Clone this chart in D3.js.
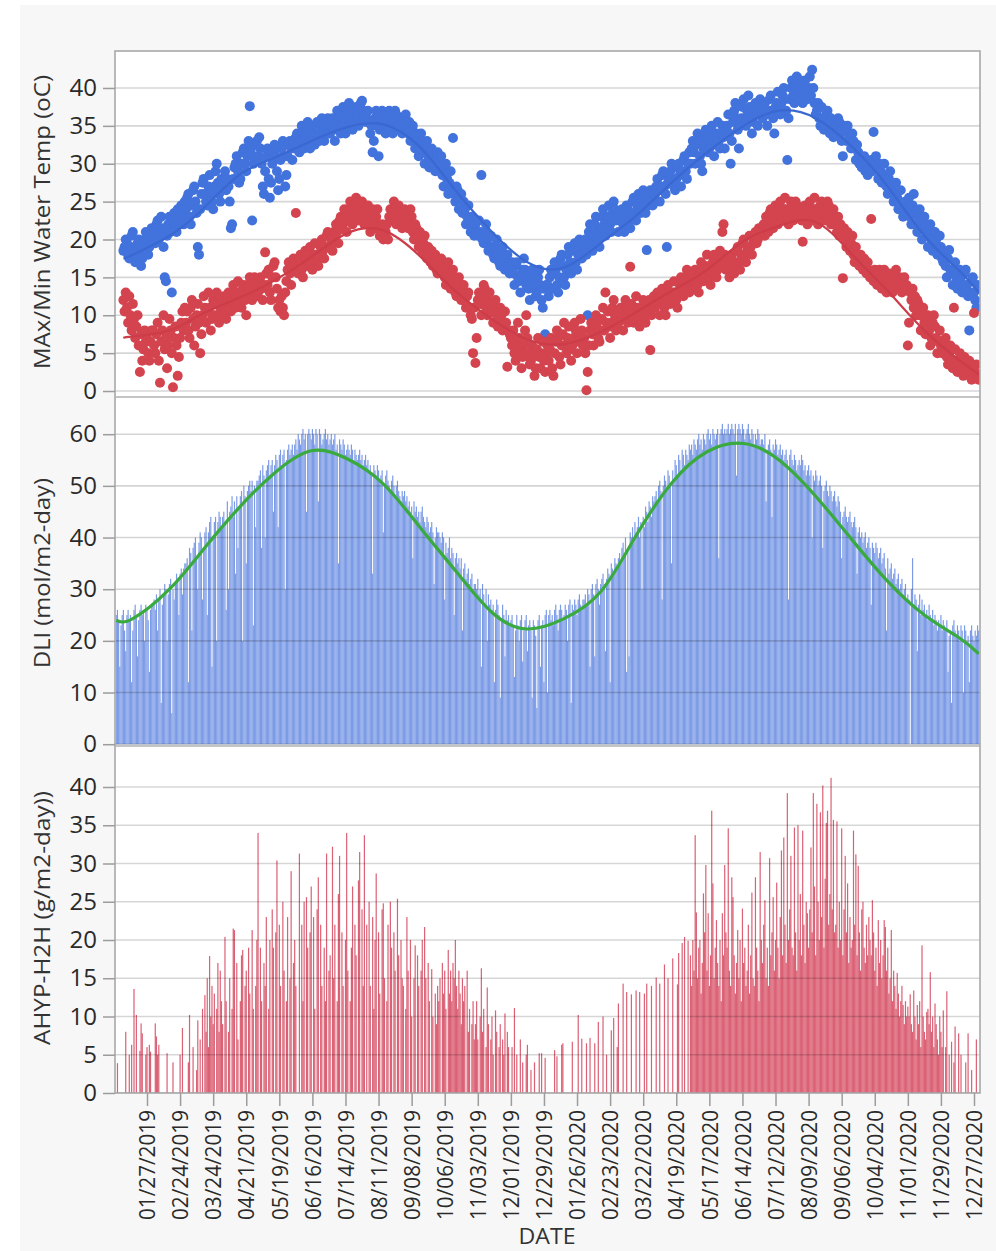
<!DOCTYPE html>
<html><head><meta charset="utf-8">
<script src="https://cdn.jsdelivr.net/npm/d3@7"></script>
<style>body{margin:0;background:#fff}svg{display:block}</style>
</head><body>
<svg id="chart" width="996" height="1251"></svg>
<script>
// ---------------- DATA ----------------
const xTickLabels = ["01/27/2019","02/24/2019","03/24/2019","04/21/2019","05/19/2019","06/16/2019","07/14/2019","08/11/2019","09/08/2019","10/06/2019","11/03/2019","12/01/2019","12/29/2019","01/26/2020","02/23/2020","03/22/2020","04/19/2020","05/17/2020","06/14/2020","07/12/2020","08/09/2020","09/06/2020","10/04/2020","11/01/2020","11/29/2020","12/27/2020"];
const tempTicks = [0,5,10,15,20,25,30,35,40];
const dliTicks = [0,10,20,30,40,50,60];
const ahypTicks = [0,5,10,15,20,25,30,35,40];

// daily max water temp, one array per month, Jan 2019 .. Dec 2020
const tmaxByMonth = [
[null,null,null,null,null,null,18.5,19,20,19.5,18,17.5,19,20.5,21,18,17,18.5,19.5,20,18,16.5,17.5,19,20,21,19.5,18,19,20.5,21.5],
[20,21,19.5,22,22.5,20,21,23,21.5,19,15,14.5,20.5,22,23,21,13,22.5,23.5,22,21,24,23,22,24.5,23,22,25],
[24,25.5,26,23,22,24.5,26.5,27,25,23.5,19,18,24,26,27.5,28,26,25,24.5,27,28.5,26,25,24,27,29,30,27.5,26,25,28],
[27,28,29,26.5,28,27,25,21.5,22,28,29.5,30,31,29,27.5,28,30,31.5,32,30,29,31,33,37.6,32,22.5,30,31,32.5,33],
[31,33.5,32,30,27,26,29,31,32,28,25.5,27.5,30,31.5,32.5,31,29,26.5,28,30.5,32,33,31,27,28.5,31,32.5,33,32,30.5,33],
[32,33.5,34,32.5,31.5,33,35,34,32,33.5,34.5,35.5,33,32,34,35,33.5,32.5,34,35.5,34,33,35,36,34.5,33,34,35.5,36,34],
[34,35,36,34.5,33,35.5,37,36,35,34,36.5,37.5,35,34,36,37,38,36.5,35,34.5,36,37,37.5,36,35,37,38,38.3,37,36,35.5],
[36,37,35.5,34,35,31.5,33,36,37,35,31,34.5,36,37,36,35,34,35.5,36.5,37,36,35,34,35.5,37,36.5,35,34.5,36,35,34],
[36,35,36.5,35,34,35.5,33,34,35,33.5,32,34,33,31,32.5,34,33,31.5,30,32,33,31,29.5,30.5,32,31,30,29,30.5,31.5],
[30,29,31,28.5,27,29.5,30,28,26,27.5,29,27,33.4,26,25,27,26.5,24,25.5,26,23.5,25,24,22,23,24.5,22.5,21,23,22,20.5],
[22,21,20.5,22.5,21,28.5,20,19.5,21,22,20,18.5,19,20.5,19,18,17.5,19,20,18,17,16.5,18,19,17.5,16,17,18,16.5,15.5],
[16,17,15.5,14,16.5,17,15,14.5,13,15.5,16,17.5,16,14,15,13.5,12,14.5,16,15,14,12.5,13,15,16,14,12,11,13.5,7.5,14],
[14,12.5,15,16,13.5,15.5,17,16,14,13,15,17.5,18,16.5,15,14,16,18,19,17,15.5,16.5,18.5,19.5,17,16,18,20,19,17.5,18.5],
[19,20,18,10,21,22,19.5,18.5,20.5,22,23,21,20,19,21.5,23,24,22,20.5,21,23,24.5,22,21,23.5,25,24,22.5,23],
[21,22.5,23,24,22,21,23,24.5,24,22.5,21.5,23.5,25,25.5,23.5,22.5,24.5,26,24.5,23.5,25.5,26.5,25,23.5,18.6,24.5,25.5,26.5,25.5,24.5,26],
[26,27,28,26.5,25,27,28.5,29,27,26,19,27.5,28,29,30,28,27,26.5,28,29.5,30,28.5,27,29,30.5,31,29,28,30,31.5],
[30,32,33,31.5,30,32.5,34,33,31,30,29,32,33.5,34.5,33,31.5,32,34,35,33,31,32.5,34,35.5,33,32,34,35,33.5,32,34.5],
[35,36.5,34,30,33,35.5,37,38,36,34.5,32,35,36,37.5,38.5,36,35,37,39,37.5,36,34,35.5,37,38,36.5,35,37,38.5,37],
[36,37.5,38,36.5,35,37,38.5,39,37,36,34,37.5,38,39.5,37,36.5,38,39,40,38.5,37,30.5,36,38.5,40,41,39,38,40.5,41.5,39],
[40,41,39.5,38,40.5,41,39,38.5,40,41.5,39,42.4,40,38,36.5,37,38,36,35,37.5,36,34.5,35,36.5,37,35.5,34,36,35,33.5,34],
[35,34,36,35.5,34,33,31,35,34.5,33,35,34,33.5,32,34,33,32,30.5,32.5,31.5,30,31,29.5,30.5,31,29,30,28.5,29.5,30],
[30.5,29,34.2,30,31,29.5,28,30,29,27.5,28.5,30,28,27,26,28,29,27,26.5,25,26,27.5,25.5,24,25,26.5,24.5,23,24,25,23.5],
[24,25.5,23,22,24.5,26,23.5,22,21,23,24,22.5,20,21.5,23,22,20.5,19,21,22,20,18.5,19.5,21,20,18,19,20.5,19,17.5],
[17,18,16.5,15,17.5,18.6,16,15.5,14,16,17,15,13.5,14.5,16,15,13,14,15.5,16,14,12.5,8,13,14.5,15,13,12,11,14,13.5]
];

// daily min water temp
const tminByMonth = [
[null,null,null,null,null,null,12,10.5,13,11,9,12.5,10,8,11.5,9.5,7,8.5,10,6,2.5,7.5,4,5.5,8,6.5,7,5,4,6.5,8],
[8,6,5,7.5,9,4,1.1,6.5,8,10,5.5,7,3,6,9.5,8,5,0.5,7,8.5,6,2,4.5,7,9,10.5,8,11],
[9,10.5,8,7,11,12,9.5,6,8.5,10,11.5,9,5,7.5,10,12.5,11,9,10.5,13,11,8,9.5,12,10,11.5,13,10,9,11,12],
[11,12.5,10,9.5,12,13,11.5,10.5,12,14,13,11,12.5,14.5,13,12,11,13.5,14,12,10,12.5,14,15,13,12,13.5,15,14,12.5],
[13,14.5,15,13.5,12,14,18.3,15.5,14,16,13,12,15,16.5,17,15,13.5,11,12,10.5,12.5,11,10,13,14.5,16,17,15.5,14,16,17.5],
[17,23.5,16,15.5,17.5,18,16,15,17,18.5,17.5,16.5,18,19,17,16,18,19.5,18,17,16.5,18,19,20,18.5,17.5,19,20.5,21,19],
[19,20,18.5,21,20.5,22,21,19.5,22.5,23,21.5,22,24,23,21,22.5,24,25,23.5,22,23,24.5,25.5,24,22.5,23,24,25,23.5,22,24],
[23,24.5,22,21,23.5,24,22.5,21.5,23,24,22,20.5,21,22,20,21.5,21,22,20,23,24,22.5,23.5,25,24,22,23,24.5,23,22,21.5],
[23.5,24,22,23,21.5,22.5,24,23,21,20,22,21.5,20.5,19,21,20,18.5,19.5,20.5,18,17.5,19,18,17,18.5,16.5,17,18,16,15.5],
[17,16,17.5,15.5,16.5,15,14,16,17,15,13.5,14.5,16,15,13,12.5,14,15,13,12,13.5,14,12,11,12.5,13,11,10,9.5,5,11],
[3.7,7,12,13,11.5,10,12.5,14,13.5,11,10,12,13,11.5,10.5,9,11,12,10,8.5,9.5,11,10,8,9,10.5,9,3.2,8,7.5],
[7,6,8,5,4,6.5,9,7,5.5,3,4.5,6,8,10,7,5,3.5,4,6,5,2,3,5.5,7,4.5,3,5,6.5,4,2.5,5],
[6,4,5.5,7,3,2,5,6.5,8,7,4.5,3.5,6,7.5,9,6,5,7,8.5,5.5,4,6,7,9,8,5,6.5,7.5,9.5,8,6],
[7,5,0.1,2.5,6,8,9,7.5,6,8.5,10,9,7,6.5,8,9.5,11,8,13,9,10.5,8.5,7,9,11,12,10,8,9],
[9,10.5,11,9.5,8,10,12,11,9,10.5,16.4,11.5,10,9,11,12.5,11,10,8.5,9.5,11,12,10.5,9,10,11.5,12,5.4,10,11,12.5],
[11,12,13,11.5,10,12.5,13.5,12,11,10,12.5,14,13,11.5,12,13,14.5,13,12,11,13,14,15,13.5,12.5,14,15,16,14,13],
[14,15,13.5,14.5,16,15,14,13,15.5,17,16,14.5,15,16.5,18,16,15,14,15.5,17,18,16.5,15,16,17.5,18.5,17,21,22,18,16],
[17,16,15,17.5,18,16.5,15.5,17,18.5,19,17,16,18,19.5,20,18,17,18.5,19,20.5,19,18,19.5,20,21,19.5,20,21.5,20.5,21],
[21,22,20.5,23,22.5,21,23.5,24,22,21.5,23,24.5,23,22,24,25,23.5,22.5,24,25.5,24,23,22,24,25,23.5,22.5,24,25,24.5,23],
[23,24,22.5,19.7,23.5,24.5,23,22,24,25,23.5,22.5,24,25.5,24,23,22,23.5,24.5,25,24,23,22.5,24,25,24.5,23,22,23.5,24,22.5],
[22,21,23,20.5,22,21,14.9,21.5,20,19,21,20,18.5,19.5,20.5,18,17,19,18,17.5,16.5,18,17,16,17.5,16,15.5,17,16,15],
[22.7,15,14.5,16,15,14,15.5,16,14.5,13.5,15,16,14,13,15,14.5,15.5,14,13,14.5,15,16,14,13.5,15,14,13,14.5,15,13.5,14],
[6,9,13,12,13.5,11,12.5,10,12,11.5,10,8,10.5,11,9,7.5,9,10,8,6,7,9,10,8.5,7,5,6.5,8,6,5],
[6,5,7,4.5,3.5,5,6,4,3,11,5.5,4,2.5,3.5,5,4,3,2,4.5,3.5,2.5,3,4,2,1.5,3,10.3,2.5,3.5,2,1.5]
];

// daily light integral (mol/m2-day)
const dliByMonth = [
[25,26,24,15,23,25,26,22,18,25,26,24,25,12,22,26,27,25,17,24,26,27,25,26,20,27,26,24,14,26,27],
[27,28,26,29,22,28,30,8,27,29,31,30,20,29,31,32,6,30,28,31,33,32,25,33,34,29,34,35],
[35,36,12,38,37,22,38,39,40,36,30,39,41,40,28,38,41,42,25,41,43,44,15,40,43,44,20,43,45,44,42],
[44,45,43,26,47,30,45,46,48,44,47,33,48,38,46,48,49,20,50,48,35,49,50,51,49,51,23,50,42,51],
[51,52,53,38,54,52,40,53,54,55,52,54,55,45,54,56,55,42,56,57,54,56,57,30,55,57,58,56,57,58,56],
[58,59,57,60,59,58,60,61,59,60,45,60,61,60,59,61,60,58,61,60,47,61,60,58,59,60,61,59,60,58],
[59,60,58,59,60,57,58,35,59,58,57,59,58,56,57,58,57,56,58,57,55,57,56,55,56,57,55,56,54,55,56],
[54,55,53,54,52,33,54,53,52,54,53,51,52,53,41,50,52,53,51,50,49,51,52,50,48,50,51,49,48,47,49],
[48,49,47,48,46,47,45,46,36,47,45,46,44,45,43,45,46,44,43,42,44,43,41,42,43,41,31,40,42,41],
[41,40,39,41,40,28,39,37,38,40,36,38,37,25,36,37,35,36,34,36,22,34,35,32,33,34,31,32,33,30,31],
[31,30,32,29,30,15,31,29,27,30,20,29,27,28,26,27,12,26,28,27,25,9,24,27,25,17,26,24,25,23],
[24,25,23,13,22,25,23,20,24,25,16,22,24,25,18,23,24,22,9,24,23,21,7,24,25,15,23,24,12,25,26],
[10,25,26,24,25,23,26,27,25,22,26,27,26,24,25,27,26,20,27,28,8,27,26,28,27,25,28,29,27,26,28],
[28,29,27,30,29,15,30,31,29,17,31,32,30,27,31,32,33,31,18,32,34,33,12,35,34,33,36,35,34],
[36,37,35,38,39,37,40,14,38,17,41,40,42,39,43,41,42,44,40,43,30,44,42,46,45,43,47,46,44,48,47],
[48,49,47,50,51,49,28,50,52,51,49,53,52,50,35,53,51,55,54,52,56,55,53,57,56,54,57,56,55,58],
[57,58,56,59,58,57,59,60,58,59,57,60,59,58,60,61,59,60,58,61,60,59,60,61,36,60,61,62,60,61,60],
[61,62,60,61,62,61,60,62,52,61,62,61,60,62,61,59,60,61,62,60,59,61,60,58,60,59,61,60,58,59],
[59,58,60,47,57,58,59,57,44,58,57,59,58,56,57,58,56,57,55,56,57,55,28,56,57,55,54,56,55,53,54],
[55,54,56,55,53,54,52,53,54,52,53,40,52,51,53,52,50,51,52,50,38,49,50,51,49,48,50,49,47,48,49],
[47,46,48,47,45,36,44,45,46,44,43,44,45,43,42,43,44,42,33,41,42,40,41,39,40,41,38,39,40,38],
[27,39,38,37,39,38,36,37,38,35,36,37,34,22,36,33,34,35,32,33,34,31,32,33,30,31,32,29,30,31,28],
[29,28,0,30,36,27,29,28,18,27,29,25,28,26,27,25,26,24,27,25,24,26,23,25,24,22,24,23,25,22],
[24,23,22,24,14,21,22,8,23,24,22,21,23,22,20,23,22,10,23,22,20,21,12,22,23,21,20,22,21,23,22]
];

// daily AHYP-H2H (g/m2-day), 0 = no harvest
const ahypByMonth = [
[0,3.9,0,0,0,0,0,0,8,0,0,5,0,6.3,0,13.6,0,10.2,0,0,5.5,9.1,7.8,0,0,5,6,0,6.3,5.4,0],
[0,0,9.1,7.4,5,6.3,0,0,0,0,0,0,5.2,0,0,0,0,4,0,0,0,0,0,5,0,8.5,0,0],
[0,0,4,10.2,0,0,6,0,0,3,9.5,0,7,0,11,0,12.8,8,15,6,17.9,10,14,9,13,0,11,17,8,16,12],
[9,0,20.4,12,0,8,15,0,11,21.5,21.3,0,17,7,0,12,18,18.7,0,14,16,0,19,13,0,21.3,11,0,14,20],
[34,0,19,12,0,17,14,23,0,11,20,0,24,19,0,21,30.4,0,22,14,0,25,16,0,12,23,0,15,29,0,17],
[20,14,0,0,31.3,0,22,12,25,0,25.6,19,0,21,27,0,23,11,0,24,28.2,0,22,14,0,19,12,31.3,0,16],
[18,0,32.2,15,22,0,12,26,31,0,21,14,0,20,34,16,0,12,19,27,0,22,18,0,27.8,31.5,0,24,14,33.7,0],
[22,0,25,14,0,23,11,20,28.7,0,21,13,0,24,24.8,15,0,12,22,0,25,19,0,21,16,0,25.4,18,0,20,15],
[14,0,11,23,16,0,20,10,0,15,19.3,0,18,14,0,16,20,0,21.7,15,0,17,12,0,16.2,10,0,13,9,14],
[12,15,0,17,13,16,11,0,18.7,13,16,12,17,15,20,14,11,16,13,9,15,12,14,0,16,8,11,0,9,12,7],
[9,12,7,0,10,16.3,8,11,0,6,13.8,9,0,7,10,5,0,10.8,8,0,6,9,0,7,5,10.4,0,8,6,0],
[0,6,0,11.1,0,5,0,0,7,0,4,0,0,5,6.3,0,0,3,0,0,4,0,0,0,5.2,0,5.2,0,0,4.6,0],
[0,0,0,0,0,0,5.6,0,4.8,0,0,0,6.3,6.5,0,0,0,0,0,0,0,6.7,0,0,0,0,10.2,0,0,7.1,0],
[0,0,6.5,0,0,7.2,0,0,0,6.5,0,0,9.3,0,0,0,10,0,0,5,0,0,0,8.2,0,9.8,0,0,6],
[11.7,0,0,0,14.3,0,0,13.2,0,0,0,12.9,0,0,0,13.4,0,0,13.2,0,0,0,13,0,14.3,0,0,0,14,0,0],
[0,15.1,0,0,14.3,0,0,0,16.8,0,0,15,0,0,0,17.6,0,0,0,14.2,18.3,0,0,19.6,0,20.4,0,0,19.9,0],
[18,14,20,16,33.7,23.6,15,19,20,13,17,26.1,21,29.8,16,23.5,14,18,36.9,27.4,15,19,22.6,17,14,20,12,23.5,18,29.8,21],
[19,34.6,16,14,28.2,25.6,18,13,17,21.3,15,20,12,24.1,17,19,14,16,22,13,18,26.2,15,14,28.2,19,16,12,31.5,20],
[17,22,25.2,15,19,14,30.7,18,21,25.6,16,20,27.5,19,15,23,31.7,18,33.4,22,17,39.2,20,24,31,19,18,34.7,21,16,35],
[20,26,18,34.3,22,17,25,23.5,19,24,32.1,21,39.2,27,18,37.8,25,20,36.7,23,40.2,19,28,35.3,36.9,22,26,41.2,24,35.7,21],
[22,35.5,19,25,20,34.6,18,24,31,21,27.4,17,23,19,20,34.3,22,31.2,18,29.7,21,16,24,25,19,17,22,18,23,20],
[18,25.2,21,16,19,14,22.6,17,20,15,18,22.6,21.7,16,19,13,15,21.3,12,16,14,11,15.7,13,10,12,14,11.5,9,12,10],
[11.3,10,12.9,9,8,13.4,10,7,11.5,9,12,6,19.3,10,8,7,10.6,11,9,15.8,8,10,6,11.7,9,7,5,10,8,6],
[10.8,0,6,13.3,0,5,0,6.7,0,4,8.7,0,0,7.8,0,5,0,0,0,4,0,7.8,0,0,3,0,0,0,7,0,0]
];

// smooth fit curves
const tempFitDates = ["2019-01-07","2019-01-15","2019-02-15","2019-03-15","2019-04-15","2019-05-15","2019-06-15","2019-07-15","2019-08-15","2019-09-15","2019-10-15","2019-11-15","2019-12-15","2020-01-15","2020-02-15","2020-03-15","2020-04-15","2020-05-15","2020-06-15","2020-07-15","2020-08-15","2020-09-15","2020-10-15","2020-11-15","2020-12-15","2020-12-31"];
const tmaxFit = [17.5,18,20.5,24,28.5,30.8,33,34.8,35.2,32.2,26.5,21,17,16.3,19.5,23,27.5,31.5,35,37,36,32.2,27,20.5,15.8,13];
const tminFit = [7,7.2,8,10.2,12.3,14.6,17.7,20.8,21.2,17.8,13.2,9.5,6.8,6.2,7.8,10.3,13.2,16,19.8,21.8,22.3,18,13.2,8,4,2.2];
const dliFitDates = ["2019-01-01","2019-01-15","2019-02-15","2019-03-15","2019-04-15","2019-05-15","2019-06-15","2019-07-15","2019-08-15","2019-09-15","2019-10-15","2019-11-15","2019-12-15","2020-01-15","2020-02-15","2020-03-15","2020-04-15","2020-05-15","2020-06-15","2020-07-15","2020-08-15","2020-09-15","2020-10-15","2020-11-15","2020-12-15","2020-12-31"];
const dliFit = [24,24.3,30,37.5,45.8,52.5,56.8,55.3,50.4,42,33.6,25.5,22.3,24.3,29.5,40,50.5,56.6,58.2,55,48,39.5,31.5,25,20.5,17.5];

// ---------------- DRAW ----------------
const FONT = "'Segoe UI','Open Sans','Noto Sans',sans-serif";
const parseTick = d3.utcParse("%m/%d/%Y");
const parseISO = d3.utcParse("%Y-%m-%d");

function toDaily(months){
  const out=[];
  months.forEach((vals,m)=>{
    const yr=2019+Math.floor(m/12), mo=m%12;
    const n=new Date(Date.UTC(yr,mo+1,0)).getUTCDate();
    vals.slice(0,n).forEach((v,i)=>{ if(v!==null && v!==undefined) out.push({date:new Date(Date.UTC(yr,mo,i+1)), v}); });
  });
  return out;
}
const tmaxD=toDaily(tmaxByMonth), tminD=toDaily(tminByMonth), dliD=toDaily(dliByMonth), ahypD=toDaily(ahypByMonth).filter(d=>d.v>0);
const fitPts=(dates,vals)=>dates.map((s,i)=>({date:parseISO(s), v:vals[i]}));

const svg=d3.select("#chart");
svg.append("rect").attr("x",20).attr("y",5).attr("width",976).attr("height",1246).attr("fill","#f7f7f7");

const PL=115, PR=980;
const tickDates=xTickLabels.map(parseTick);
const x=d3.scaleUtc().domain([tickDates[0], tickDates[tickDates.length-1]]).range([147,974]);
const dayW=x(new Date(Date.UTC(2019,0,2)))-x(new Date(Date.UTC(2019,0,1)));

const panels=[
  {top:51,bottom:397,domain:[-0.79,44.88],ticks:tempTicks,title:"MAx/Min Water Temp (oC)",tlen:294,tcy:222},
  {top:397,bottom:746,domain:[-0.35,67.2],ticks:dliTicks,title:"DLI (mol/m2-day)",tlen:190,tcy:573},
  {top:746,bottom:1093,domain:[0,45.36],ticks:ahypTicks,title:"AHYP-H2H (g/m2-day))",tlen:254,tcy:918}
];
const defs=svg.append("defs");
panels.forEach((p,i)=>{
  p.y=d3.scaleLinear().domain(p.domain).range([p.bottom,p.top]);
  defs.append("clipPath").attr("id","clip"+i).append("rect").attr("x",PL).attr("y",p.top).attr("width",PR-PL).attr("height",p.bottom-p.top);
  svg.append("rect").attr("x",PL).attr("y",p.top).attr("width",PR-PL).attr("height",p.bottom-p.top).attr("fill","#fff");
  p.g=svg.append("g").attr("clip-path",`url(#clip${i})`);
});

function grid(p,color){
  p.g.append("g").selectAll("line").data(p.ticks).join("line")
    .attr("x1",PL).attr("x2",PR).attr("y1",d=>p.y(d)).attr("y2",d=>p.y(d))
    .attr("stroke",color).attr("stroke-width",1.6);
}

// Panel 1: temperatures
const p1=panels[0];
grid(p1,"#d6d6d6");
p1.g.append("g").selectAll("circle").data(tmaxD).join("circle")
  .attr("cx",d=>x(d.date)).attr("cy",d=>p1.y(d.v)).attr("r",5).attr("fill","#4272dc");
p1.g.append("g").selectAll("circle").data(tminD).join("circle")
  .attr("cx",d=>x(d.date)).attr("cy",d=>p1.y(d.v)).attr("r",5).attr("fill","#d3444f");
const line1=d3.line().x(d=>x(d.date)).y(d=>p1.y(d.v)).curve(d3.curveNatural);
p1.g.append("path").datum(fitPts(tempFitDates,tmaxFit)).attr("d",line1).attr("fill","none").attr("stroke","#3a68d2").attr("stroke-width",2.2);
p1.g.append("path").datum(fitPts(tempFitDates,tminFit)).attr("d",line1).attr("fill","none").attr("stroke","#cc3c49").attr("stroke-width",2.2);

// Panel 2: DLI bars
const p2=panels[1];
p2.g.append("g").selectAll("rect").data(dliD).join("rect")
  .attr("x",d=>x(d.date)-dayW/2).attr("width",dayW)
  .attr("y",d=>p2.y(d.v)).attr("height",d=>p2.y(0)-p2.y(d.v)).attr("fill","#7c9be6");
grid(p2,"rgba(0,0,0,0.17)");
const line2=d3.line().x(d=>x(d.date)).y(d=>p2.y(d.v)).curve(d3.curveNatural);
p2.g.append("path").datum(fitPts(dliFitDates,dliFit)).attr("d",line2).attr("fill","none").attr("stroke","#3aaa3f").attr("stroke-width",3.2);

// Panel 3: AHYP bars
const p3=panels[2];
p3.g.append("g").selectAll("rect").data(ahypD).join("rect")
  .attr("x",d=>x(d.date)-0.6).attr("width",1.2)
  .attr("y",d=>p3.y(d.v)).attr("height",d=>p3.y(0)-p3.y(d.v)).attr("fill","#d23a52").attr("fill-opacity",0.8);
grid(p3,"rgba(0,0,0,0.16)");

// frame
svg.append("rect").attr("x",PL).attr("y",51).attr("width",PR-PL).attr("height",1093-51)
  .attr("fill","none").attr("stroke","#a8a8a8").attr("stroke-width",1.6);
[397,746].forEach(yy=>svg.append("line").attr("x1",PL).attr("x2",PR).attr("y1",yy).attr("y2",yy).attr("stroke","#b0b0b0").attr("stroke-width",1.6));

// y axes + titles
panels.forEach(p=>{
  const ax=svg.append("g").attr("transform",`translate(${PL},0)`)
    .call(d3.axisLeft(p.y).tickValues(p.ticks).tickSize(12).tickPadding(6));
  ax.select(".domain").remove();
  ax.selectAll(".tick line").attr("stroke","#9c9c9c").attr("stroke-width",1.5);
  ax.selectAll(".tick text").attr("font-family",FONT).attr("font-size",24).attr("fill","#2a2a2a");
  svg.append("text").attr("transform",`translate(43,${p.tcy}) rotate(-90)`)
    .attr("text-anchor","middle").attr("dy","0.35em").attr("font-family",FONT).attr("font-size",21)
    .attr("fill","#333").attr("textLength",p.tlen).attr("lengthAdjust","spacingAndGlyphs").text(p.title);
});

// x axis
const xa=svg.append("g").attr("transform","translate(0,1093)")
  .call(d3.axisBottom(x).tickValues(tickDates).tickSize(13).tickFormat(d3.utcFormat("%m/%d/%Y")));
xa.select(".domain").remove();
xa.selectAll(".tick line").attr("stroke","#9c9c9c").attr("stroke-width",1.5);
xa.selectAll(".tick text").attr("transform","rotate(-90)").attr("x",-17).attr("y",0).attr("dy","0.35em")
  .attr("text-anchor","end").attr("font-family",FONT).attr("font-size",22).attr("fill","#2a2a2a")
  .attr("textLength",110).attr("lengthAdjust","spacingAndGlyphs");
svg.append("text").attr("x",547).attr("y",1244).attr("text-anchor","middle").attr("font-family",FONT)
  .attr("font-size",21).attr("fill","#333").attr("textLength",57).attr("lengthAdjust","spacingAndGlyphs").text("DATE");
</script>
</body></html>
